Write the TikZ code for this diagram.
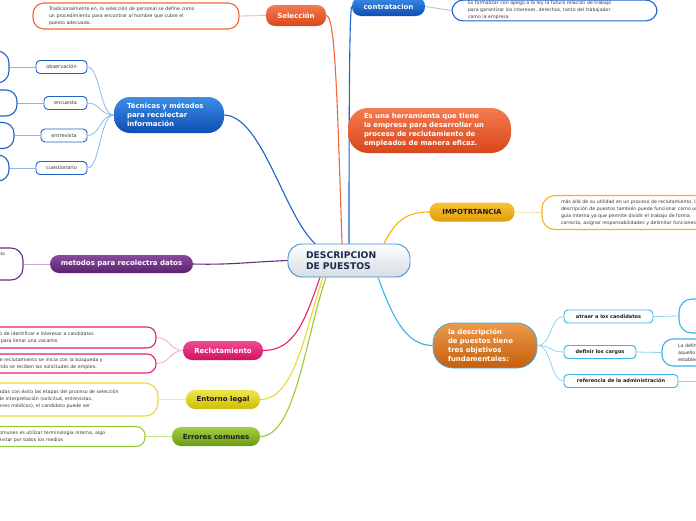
\documentclass[tikz,border=0pt]{standalone}
\usepackage{fontspec}
\setmainfont{DejaVu Sans}
\usetikzlibrary{positioning}

\definecolor{selt}{HTML}{F47B52}
\definecolor{selb}{HTML}{D9471A}
\definecolor{selline}{HTML}{F2683A}
\definecolor{blut}{HTML}{3B8EE6}
\definecolor{blub}{HTML}{0D4EB3}
\definecolor{bluline}{HTML}{1F62C9}
\definecolor{tecleaf}{HTML}{8DB8EA}
\definecolor{purt}{HTML}{8A4A9E}
\definecolor{purb}{HTML}{5B2270}
\definecolor{purline}{HTML}{6B2C84}
\definecolor{purleaf}{HTML}{C9A7D6}
\definecolor{impt}{HTML}{F8C43A}
\definecolor{impb}{HTML}{E19C05}
\definecolor{impline}{HTML}{F6B512}
\definecolor{impleaf}{HTML}{FADD99}
\definecolor{objt}{HTML}{EE9A4A}
\definecolor{objb}{HTML}{C45F0E}
\definecolor{cyanline}{HTML}{39B2EA}
\definecolor{cyanleaf}{HTML}{8FD3F3}
\definecolor{pinkt}{HTML}{F04B92}
\definecolor{pinkb}{HTML}{CF1262}
\definecolor{pinkline}{HTML}{E9206F}
\definecolor{pinkleaf}{HTML}{F5A6C6}
\definecolor{yelt}{HTML}{EFE54A}
\definecolor{yelb}{HTML}{CDBE08}
\definecolor{yelline}{HTML}{E7DC2E}
\definecolor{yelleaf}{HTML}{F1EA8A}
\definecolor{grnt}{HTML}{A3CF45}
\definecolor{grnb}{HTML}{6B9A12}
\definecolor{grnline}{HTML}{9ACA36}
\definecolor{grnleaf}{HTML}{C6E38E}
\definecolor{cenline}{HTML}{3E8FD3}
\definecolor{cenbot}{HTML}{D5DDE3}
\definecolor{centxt}{HTML}{1B2B4F}
\definecolor{txtdark}{HTML}{1E1E1E}
\definecolor{txtgray}{HTML}{3A3A3A}

\begin{document}
\begin{tikzpicture}[x=1pt, y=-1pt,
  topic/.style={rounded corners=9pt, inner sep=0pt, text=white, font=\fontsize{7}{9}\selectfont\bfseries},
  darktopic/.style={topic, text=txtdark},
  detail/.style={draw, line width=1.1pt, rounded corners=9pt, fill=white, inner ysep=0pt, align=left, text=txtgray, font=\fontsize{4.7}{7}\selectfont},
  leaf/.style={draw=bluline, line width=0.9pt, rounded corners=4pt, fill=white, inner sep=0pt, minimum height=13pt, text=txtgray, font=\fontsize{5}{6}\selectfont},
  bleaf/.style={leaf, draw=cyanline, text=txtdark, font=\fontsize{5}{6}\selectfont\bfseries},
  link/.style={line width=1.1pt},
  sublink/.style={line width=0.8pt}]

  % Fond
  \useasboundingbox (0,0) rectangle (696,520);
  \fill[white] (0,0) rectangle (696,520);
  \clip (0,0) rectangle (696,520);

  % Centre
  \node[draw=cenline, line width=0.9pt, rounded corners=14pt, top color=white, bottom color=cenbot,
    text=centxt, font=\fontsize{9.2}{11}\selectfont\bfseries, align=left, text width=86pt,
    inner xsep=18pt, inner ysep=0pt, minimum height=33pt] (cen) at (349,260.5) {DESCRIPCION\\DE PUESTOS};

  % Selección
  \node[topic, top color=selt, bottom color=selb, minimum width=60pt, minimum height=21pt] (sel) at (296,15.5) {Selección};
  \node[detail, draw=selline, text width=174pt, inner xsep=16pt, minimum height=26pt, rounded corners=11pt] (seldet) at (136,16)
    {Tradicionalmente en, la selección de personal se define como\\un procedimiento para encontrar al hombre que cubre el\\puesto adecuado.};
  \draw[link, selline] ([xshift=-7pt]cen.north) .. controls (337,90) and (335,15) .. (sel.east);
  \draw[sublink, selline!50] (sel.west) -- (seldet.east);

  % contratacion
  \node[topic, top color=blut, bottom color=blub, minimum width=73pt, minimum height=19pt] (con) at (388.5,6.5) {contratacion};
  \node[detail, draw=bluline, text width=173pt, inner xsep=16pt, inner ysep=1pt, minimum height=16pt, rounded corners=11pt] (condet) at (554.5,10.5)
    {Es formalizar con apego a la ley la futura relación de trabajo\\para garantizar los intereses, derechos, tanto del trabajador\\como la empresa};
  \draw[link, bluline] (cen.north) .. controls (349,60) and (350,8) .. (con.west);
  \draw[sublink, bluline!40] (con.east) -- (condet.west);

  % Herramienta
  \node[topic, top color=selt, bottom color=selb, rounded corners=20pt, align=left, text width=131pt, inner xsep=16pt,
    minimum height=45pt, font=\fontsize{6.9}{9}\selectfont\bfseries] (her) at (429.5,130.5)
    {Es una herramienta que tiene\\la empresa para desarrollar un\\proceso de reclutamiento de\\empleados de manera eficaz.};

  % Técnicas y métodos
  \node[topic, top color=blut, bottom color=blub, rounded corners=16pt, align=left, text width=84pt, inner xsep=13pt,
    minimum height=36pt] (tec) at (169,115) {Técnicas y métodos\\para recolectar\\información};
  \draw[link, bluline] (tec.east) .. controls (262,116) and (284,215) .. ([xshift=-34pt]cen.north);

  \node[leaf, minimum width=51pt] (obs) at (61.5,67) {observación};
  \node[leaf, minimum width=43pt] (enc) at (65.5,103) {encuesta};
  \node[leaf, minimum width=46pt] (ent2) at (64,135.5) {entrevista};
  \node[leaf, minimum width=51pt] (cue) at (61.5,168) {cuestionario};
  \node[detail, draw=bluline, minimum width=70pt, minimum height=32pt, rounded corners=12pt] (obsdet) at (-26,67) {};
  \node[detail, draw=bluline, minimum width=70pt, minimum height=26pt, rounded corners=11pt] (encdet) at (-18,103) {};
  \node[detail, draw=bluline, minimum width=70pt, minimum height=26pt, rounded corners=11pt] (ent2det) at (-21,135.5) {};
  \node[detail, draw=bluline, minimum width=70pt, minimum height=26pt, rounded corners=11pt] (cuedet) at (-26,168) {};
  \foreach \n in {obs,enc,ent2,cue}{
    \draw[sublink, tecleaf] (tec.west) .. controls (100,115) and (100,0|-\n.east) .. (\n.east);
    \draw[sublink, tecleaf] (\n.west) -- (\n det.east);
  }

  % Métodos
  \node[topic, top color=purt, bottom color=purb, minimum width=143pt, minimum height=18pt] (met) at (121.5,264) {metodos para recolectra datos};
  \node[detail, draw=purline, align=right, text width=41pt, inner xsep=18pt, minimum height=32pt, rounded corners=12pt] (metdet) at (-15.5,264)
    {el modelo\\ \mbox{}\\ \mbox{}\\ \mbox{}};
  \draw[link, purline] (cen.west) .. controls (250,262) and (230,265) .. (met.east);
  \draw[sublink, purleaf] (met.west) -- (metdet.east);

  % Importancia
  \node[darktopic, top color=impt, bottom color=impb, minimum width=85pt, minimum height=19pt] (imp) at (472,212) {IMPOTRTANCIA};
  \node[detail, draw=impline, text width=200pt, inner xsep=19pt, minimum height=34pt, rounded corners=13pt] (impdet) at (661,212.5)
    {más allá de su utilidad en un proceso de reclutamiento, la\\descripción de puestos también puede funcionar como una\\guía interna ya que permite dividir el trabajo de forma\\correcta, asignar responsabilidades y delimitar funciones.};
  \draw[link, impline] ([xshift=35pt]cen.north) .. controls (395,222) and (405,212) .. (imp.west);
  \draw[sublink, impleaf] (imp.east) -- (impdet.west);

  % Objetivos
  \node[topic, top color=objt, bottom color=objb, draw=cyanline, line width=0.8pt, rounded corners=20pt, align=left,
    text width=74pt, inner xsep=15pt, minimum height=45pt, font=\fontsize{6.9}{9}\selectfont\bfseries] (obj) at (485,345.5)
    {la descripción\\de puestos tiene\\tres objetivos\\fundamentales:};
  \draw[link, cyanline] ([xshift=29pt]cen.south) .. controls (392,315) and (405,345.5) .. (obj.west);

  \node[bleaf, minimum width=89pt] (atr) at (608.5,316.5) {atraer a los candidatos};
  \node[bleaf, minimum width=72pt] (def) at (600,352) {definir los cargos};
  \node[bleaf, minimum width=114pt] (ref) at (621,381) {referencia de la administración};
  \node[detail, draw=cyanline, minimum width=100pt, minimum height=34pt, rounded corners=13pt] (atrdet) at (729,316) {};
  \node[detail, draw=cyanline, text width=86pt, inner xsep=16pt, minimum height=27pt, rounded corners=11pt] (defdet) at (721,352.5)
    {La definición de cargos\\aquello que permite\\establecer funciones};
  \node[detail, draw=cyanline, minimum width=100pt, minimum height=30pt] (refdet) at (760,381) {};
  \foreach \n in {atr,def,ref}{
    \draw[sublink, cyanleaf] (obj.east) .. controls (552,345.5) and (550,0|-\n.west) .. (\n.west);
    \draw[sublink, cyanleaf] (\n.east) -- (\n det.west);
  }

  % Reclutamiento
  \node[topic, top color=pinkt, bottom color=pinkb, minimum width=80pt, minimum height=19pt] (rec) at (223,350.5) {Reclutamiento};
  \node[detail, draw=pinkline, text width=177pt, inner xsep=8pt, minimum height=21pt] (recdet1) at (59.5,337.5)
    {Es el proceso de identificar e interesar a candidatos\\capacitados para llenar una vacante.};
  \node[detail, draw=pinkline, text width=177pt, inner xsep=8pt, minimum height=19pt] (recdet2) at (59.5,363.5)
    {El proceso de reclutamiento se inicia con la búsqueda y\\termina cuando se reciben las solicitudes de empleo.};
  \draw[link, pinkline] ([xshift=-29pt]cen.south) .. controls (305,320) and (295,350.5) .. (rec.east);
  \draw[sublink, pinkleaf] (rec.west) .. controls (170,350.5) and (170,337.5) .. (recdet1.east);
  \draw[sublink, pinkleaf] (rec.west) .. controls (170,350.5) and (170,363.5) .. (recdet2.east);

  % Entorno legal
  \node[darktopic, top color=yelt, bottom color=yelb, minimum width=74pt, minimum height=19pt] (ent) at (223,399.5) {Entorno legal};
  \node[detail, draw=yelline, text width=185pt, inner xsep=8pt, minimum height=33pt, rounded corners=13pt] (entdet) at (57.5,399.5)
    {Una vez superadas con éxito las etapas del proceso de selección\\y las pruebas de interpretación (solicitud, entrevistas,\\físicos y exámenes médicos), el candidato puede ser};
  \draw[link, yelline] ([xshift=-26pt]cen.south) .. controls (305,330) and (295,399.5) .. (ent.east);
  \draw[sublink, yelleaf] (ent.west) -- (entdet.east);

  % Errores comunes
  \node[darktopic, top color=grnt, bottom color=grnb, minimum width=88pt, minimum height=19pt] (err) at (216,436.5) {Errores comunes};
  \node[detail, draw=grnline, text width=185pt, inner xsep=8pt, minimum height=20pt] (errdet) at (44.5,436.5)
    {Uno de los errores comunes es utilizar terminología interna, algo\\que se recomienda evitar por todos los medios};
  \draw[link, grnline] ([xshift=-23pt]cen.south) .. controls (305,340) and (295,436.5) .. (err.east);
  \draw[sublink, grnleaf] (err.west) -- (errdet.east);
\end{tikzpicture}
\end{document}
